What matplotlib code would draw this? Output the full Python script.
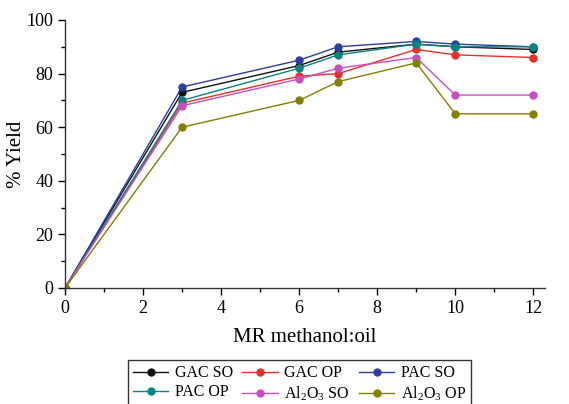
import matplotlib
matplotlib.use("Agg")
import matplotlib.pyplot as plt
from matplotlib.ticker import MultipleLocator

plt.rcParams['font.family'] = ['Liberation Serif', 'DejaVu Serif']
plt.rcParams['mathtext.fontset'] = 'custom'
plt.rcParams['mathtext.rm'] = 'Liberation Serif'

ratio = [0, 3, 6, 7, 9, 10, 12]
gac_so = [0, 73, 83, 88, 91, 90, 89]
gac_op = [0, 69, 79, 80, 89, 87, 86]
pac_so = [0, 75, 85, 90, 92, 91, 90]
pac_op = [0, 70, 82, 87, 91, 90, 90]
al_so = [0, 68, 78, 82, 86, 72, 72]
al_op = [0, 60, 70, 77, 84, 65, 65]

series = [
    ("GAC SO", gac_so, "#111111"),
    ("GAC OP", gac_op, "#e5302a"),
    ("PAC SO", pac_so, "#2e3d9c"),
    ("PAC OP", pac_op, "#0b8282"),
    (r"Al$_2$O$_3$ SO", al_so, "#c650c0"),
    (r"Al$_2$O$_3$ OP", al_op, "#838000"),
]

fig = plt.figure(figsize=(5.69, 4.04), dpi=100)
ax = fig.add_axes([65/569, 116/404, 480/569, 268/404])

lines = []
for name, vals, col in series:
    ln, = ax.plot(ratio, vals, '-o', color=col, lw=1.0, ms=5, label=name)
    lines.append(ln)

ax.set_xlim(0, 12.3)
ax.set_ylim(0, 100)
ax.xaxis.set_major_locator(MultipleLocator(2))
ax.xaxis.set_minor_locator(MultipleLocator(1))
ax.yaxis.set_major_locator(MultipleLocator(20))
ax.yaxis.set_minor_locator(MultipleLocator(10))
ax.spines['top'].set_visible(False)
ax.spines['right'].set_visible(False)
for s in ('left', 'bottom'):
    ax.spines[s].set_linewidth(1.0)
    ax.spines[s].set_color('#333333')
ax.tick_params(which='major', length=5, width=1, labelsize=13, direction='out')
ax.tick_params(which='minor', length=3, width=1, direction='out')

ax.set_xlabel("MR methanol:oil", fontsize=15, labelpad=8)
ax.set_ylabel("% Yield", fontsize=15, labelpad=0)

# legend fills column-first, so reorder to read across rows
order = [0, 3, 1, 4, 2, 5]
leg = fig.legend([lines[i] for i in order], [series[i][0] for i in order],
                 loc='upper center', bbox_to_anchor=(0.527, 0.108), ncol=3,
                 fontsize=11.5, frameon=True, fancybox=False, edgecolor='black',
                 handlelength=2.2, columnspacing=0.6, handletextpad=0.4,
                 borderpad=0.3, labelspacing=0.2, borderaxespad=0)
leg.get_frame().set_linewidth(1.0)

fig.savefig("out.png", dpi=100)
